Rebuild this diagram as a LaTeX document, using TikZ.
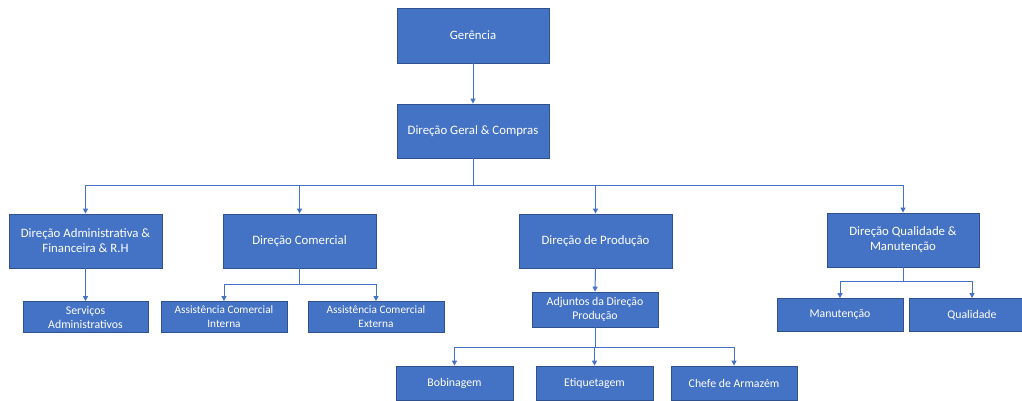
\documentclass[tikz,border=0pt]{standalone}
\usepackage{fontspec}
\setmainfont{Carlito}
\usetikzlibrary{arrows.meta}
\definecolor{boxfill}{HTML}{4472C4}
\definecolor{boxedge}{HTML}{2F528F}
\definecolor{linkc}{HTML}{4472C4}
\begin{document}
\begin{tikzpicture}[x=1pt,y=-1pt,
  box/.style={draw=boxedge, line width=0.8pt, fill=boxfill, text=white,
    align=center, inner sep=1pt, font=\fontsize{12.8}{15}\selectfont},
  small/.style={box, font=\fontsize{11.8}{14}\selectfont},
  tight/.style={box, font=\fontsize{11.3}{14}\selectfont},
  link/.style={draw=linkc, line width=1pt, -{Triangle[length=5pt,width=5pt]}}]
\clip (0,0) rectangle (1022,401);
% top of the chart
\node[box, minimum width=152pt, minimum height=55pt] (g) at (473,35.5) {Gerência};
\node[box, minimum width=152pt, minimum height=54pt] (dg) at (473,131) {Direção Geral \& Compras};
% directions
\node[box, minimum width=153pt, minimum height=54pt] (adm) at (85.5,241) {Direção Administrativa \&\\Financeira \& R.H};
\node[box, minimum width=153pt, minimum height=54pt] (com) at (299.5,241) {Direção Comercial};
\node[box, minimum width=153pt, minimum height=54pt] (prod) at (595.5,241) {Direção de Produção};
\node[box, minimum width=152pt, minimum height=54pt] (qual) at (903,240) {Direção Qualidade \&\\Manutenção};
% departments
\node[small, minimum width=125pt, minimum height=31pt] (serv) at (85.5,317) {Serviços\\Administrativos};
\node[tight, minimum width=126pt, minimum height=31pt] (ai) at (224,317) {Assistência Comercial\\Interna};
\node[tight, minimum width=136pt, minimum height=31pt] (ae) at (376,317) {Assistência Comercial\\Externa};
\node[small, minimum width=126pt, minimum height=35pt] (adj) at (595,309.5) {Adjuntos da Direção\\Produção};
\node[small, minimum width=117pt, minimum height=34pt] (bob) at (454.5,383) {Bobinagem};
\node[small, minimum width=117pt, minimum height=34pt] (eti) at (594.5,383) {Etiquetagem};
\node[small, minimum width=126pt, minimum height=34pt] (chefe) at (734,383) {Chefe de Armazém};
\node[small, minimum width=126pt, minimum height=33pt] (man) at (840,315) {Manutenção};
\node[small, minimum width=126pt, minimum height=33pt] (qua) at (972,315) {Qualidade};
% connectors
\draw[link] (g.south) -- (dg.north);
\draw[link] (dg.south) -- ++(0,27) -| (adm.north);
\draw[link] (dg.south) -- ++(0,27) -| (com.north);
\draw[link] (dg.south) -- ++(0,27) -| (prod.north);
\draw[link] (dg.south) -- ++(0,27) -| (qual.north);
\draw[link] (adm.south) -- (serv.north);
\draw[link] (com.south) -- ++(0,16) -| (ai.north);
\draw[link] (com.south) -- ++(0,16) -| (ae.north);
\draw[link] (prod.south) -- (adj.north);
\draw[link] (adj.south) -- ++(0,20) -| (bob.north);
\draw[link] (adj.south) -- ++(0,20) -| (eti.north);
\draw[link] (adj.south) -- ++(0,20) -| (chefe.north);
\draw[link] (qual.south) -- ++(0,14) -| (man.north);
\draw[link] (qual.south) -- ++(0,14) -| (qua.north);
\end{tikzpicture}
\end{document}
